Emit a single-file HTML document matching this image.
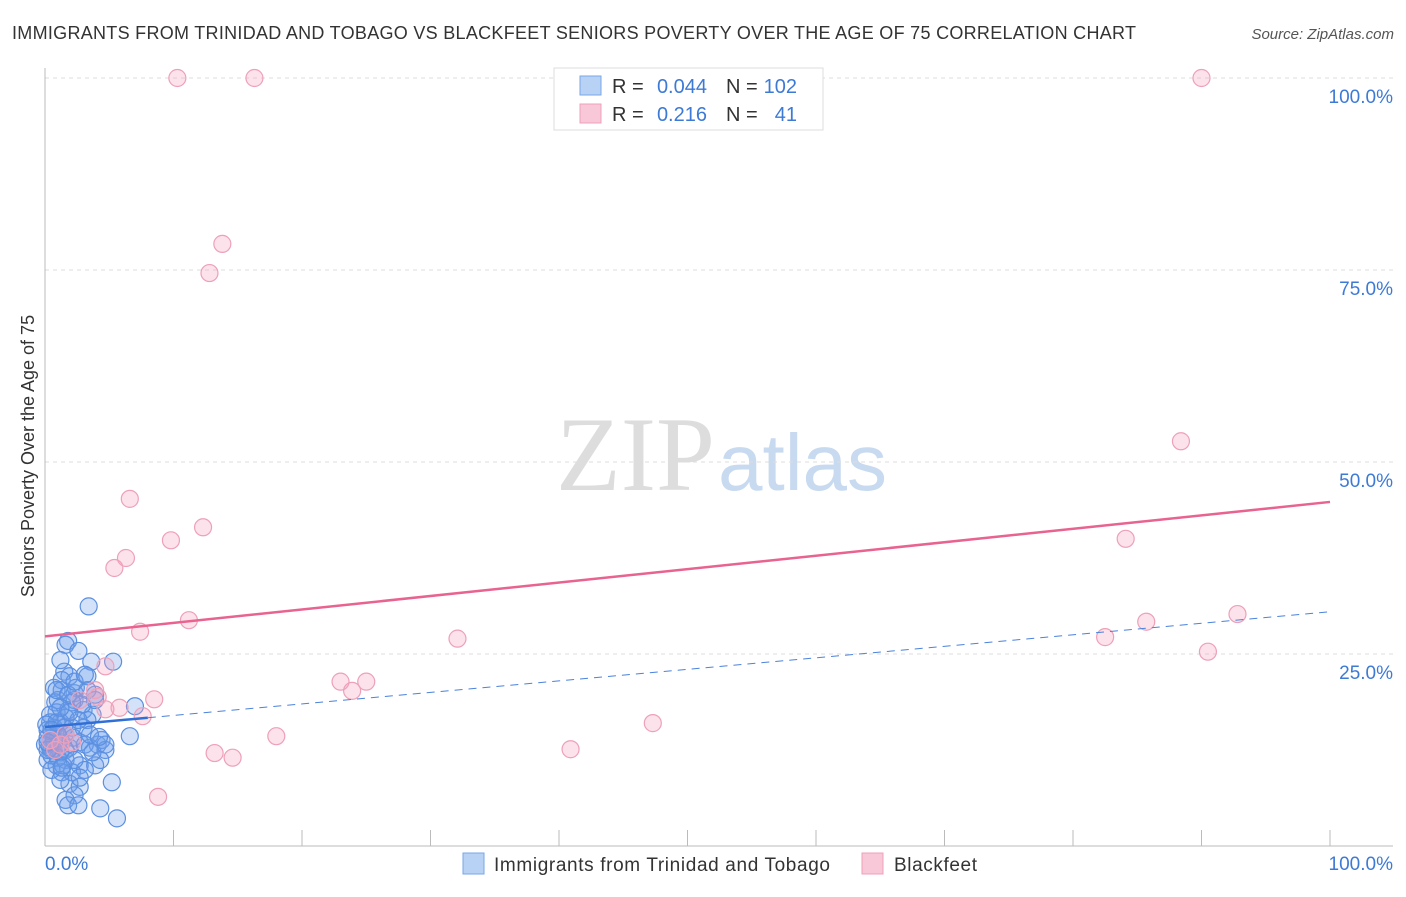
<!DOCTYPE html>
<html><head><meta charset="utf-8"><style>
body{margin:0;background:#fff;font-family:"Liberation Sans",sans-serif;}
svg text{font-family:"Liberation Sans",sans-serif;}
</style></head><body>
<svg id="chart" width="1406" height="892">
<text x="12" y="39" font-size="18" fill="#333" textLength="1124" lengthAdjust="spacing">IMMIGRANTS FROM TRINIDAD AND TOBAGO VS BLACKFEET SENIORS POVERTY OVER THE AGE OF 75 CORRELATION CHART</text>
<text x="1394" y="39" font-size="15" fill="#555" font-style="italic" text-anchor="end">Source: ZipAtlas.com</text>
<text x="715" y="490" font-size="106" fill="#ddd" text-anchor="end" style="font-family:'Liberation Serif',serif">ZIP</text>
<text x="718" y="490" font-size="80" fill="#c8daf0">atlas</text>
<g id="grid"></g>
<g id="marks"></g>
<g id="lines"></g>
<text transform="translate(34,456) rotate(-90)" font-size="18" fill="#333" text-anchor="middle">Seniors Poverty Over the Age of 75</text>
<text x="45" y="870" font-size="19" fill="#3d7ad6">0.0%</text>
<text x="1393" y="870" font-size="19" fill="#3d7ad6" text-anchor="end">100.0%</text>
<g>
<rect x="554" y="68" width="269" height="62" fill="#fff" stroke="#ddd"/>
<rect x="580" y="76" width="21" height="19" fill="#b8d2f5" stroke="#7aa6e6"/>
<rect x="580" y="104" width="21" height="19" fill="#f8c8d8" stroke="#eea0b8"/>
<text x="612" y="93" font-size="20" fill="#333">R =</text>
<text x="707" y="93" font-size="20" fill="#3d7ad6" text-anchor="end">0.044</text>
<text x="726" y="93" font-size="20" fill="#333">N =</text>
<text x="797" y="93" font-size="20" fill="#3d7ad6" text-anchor="end">102</text>
<text x="612" y="121" font-size="20" fill="#333">R =</text>
<text x="707" y="121" font-size="20" fill="#3d7ad6" text-anchor="end">0.216</text>
<text x="726" y="121" font-size="20" fill="#333">N =</text>
<text x="797" y="121" font-size="20" fill="#3d7ad6" text-anchor="end">41</text>
</g>
<g>
<rect x="463" y="853" width="21" height="21" fill="#b8d2f5" stroke="#7aa6e6"/>
<text x="494" y="871" font-size="19" fill="#333" textLength="336" lengthAdjust="spacing">Immigrants from Trinidad and Tobago</text>
<rect x="862" y="853" width="21" height="21" fill="#f8c8d8" stroke="#eea0b8"/>
<text x="894" y="871" font-size="19" fill="#333" textLength="83" lengthAdjust="spacing">Blackfeet</text>
</g>
</svg>
<script>
const yTicks=[25,50,75,100];
const yTickLabels=["25.0%","50.0%","75.0%","100.0%"];
const xTicks=[10,20,30,40,50,60,70,80,90,100];
const blueX=[3.4,1.8,1.6,2.6,3.6,5.3,1.5,1.9,3.3,0.7,1.3,2.3,0.8,2.3,3.9,7.0,0.9,1.8,3.0,3.7,3.3,0.4,1.2,2.1,0.8,0.2,1.3,4.1,6.6,4.4,4.7,0.5,0.2,0.9,1.6,2.7,3.9,1.3,2.1,3.1,5.2,1.9,2.7,2.3,1.6,1.8,2.6,4.3,5.6,0.4,1.0,0.5,1.2,1.9,0,0.2,0.7,1.6,3.0,3.5,2.2,2.7,0.4,1.0,1.3,2.4,2.9,1.6,1.0,1.5,0.9,2.1,3.3,0.5,1.2,4.3,3.9,1.8,2.6,0.1,0.4,0.7,1.6,1.4,1.0,0.2,3.1,1.9,2.3,3.7,4.7,0.9,1.2,1.3,2.7,3.5,0.5,0.2,2.3,3.1,1.2,4.2];
const blueY=[31.2,26.7,26.2,25.4,24.0,24.0,22.7,22.1,22.1,20.6,20.3,19.9,18.7,19.0,19.7,18.2,17.4,17.7,17.7,17.1,16.4,16.1,16.1,15.4,14.5,15.1,13.5,13.2,14.3,13.8,12.5,12.5,11.2,10.5,11.2,10.5,10.5,9.6,9.6,9.9,8.3,8.1,7.7,6.6,6.0,5.3,5.3,4.9,3.6,13.8,13.2,11.8,12.2,12.8,13.2,14.1,15.4,16.7,15.4,12.8,14.1,13.5,17.1,19.0,21.6,20.6,18.4,14.5,11.5,15.4,20.3,18.7,20.3,9.9,8.6,11.2,19.0,19.7,16.4,15.8,12.8,13.8,12.5,10.5,14.5,12.5,13.2,17.4,11.2,12.2,13.2,16.1,18.0,10.2,8.9,14.5,15.1,13.5,21.4,22.3,24.2,14.2];
const pinkX=[10.3,16.3,90.0,13.8,12.8,88.4,6.6,12.3,9.8,6.3,5.4,84.1,11.2,7.4,32.1,85.7,82.5,92.8,90.5,4.7,3.9,4.1,8.5,23.0,25.0,23.9,4.7,5.8,7.6,47.3,18.0,13.2,14.6,40.9,8.8,2.1,1.2,0.8,1.6,0.4,2.7];
const pinkY=[100,100,100,78.4,74.6,52.7,45.2,41.5,39.8,37.5,36.2,40.0,29.4,27.9,27.0,29.2,27.2,30.2,25.3,23.4,20.3,19.4,19.1,21.4,21.4,20.2,17.8,18.0,16.9,16.0,14.3,12.1,11.5,12.6,6.4,13.5,13.2,12.5,14.5,13.8,19.0];
const blueTrend=[15.5,30.5];
const pinkTrend=[27.3,44.8];
const X0=45,X1=1330,Y0=846,Y1=78;
const sx=v=>X0+(X1-X0)*v/100, sy=v=>Y0-(Y0-Y1)*v/100;
const NS="http://www.w3.org/2000/svg";
function mk(tag,attrs,parent){const e=document.createElementNS(NS,tag);for(const k in attrs)e.setAttribute(k,attrs[k]);parent.appendChild(e);return e;}
const grid=document.getElementById('grid'),marks=document.getElementById('marks'),lines=document.getElementById('lines');
yTicks.forEach((t,i)=>{
 const g=mk('line',{x1:X0,x2:1393,y1:sy(t),y2:sy(t),stroke:'#ddd','stroke-dasharray':'4,4'},grid);
 
 
 const l=mk('text',{x:1393,y:sy(t)+25,'font-size':19,fill:'#3d7ad6','text-anchor':'end'},grid);
 l.textContent=yTickLabels[i];
 
 
});
xTicks.forEach(t=>{
 const k=mk('line',{x1:sx(t),x2:sx(t),y1:830,y2:846,stroke:'#bbb'},grid);
 
 
});
const ax=mk('line',{x1:X0,x2:X0,y1:68,y2:846,stroke:'#bbb'},grid);


const bx=mk('line',{x1:X0,x2:1393,y1:846,y2:846,stroke:'#bbb'},grid);


blueX.forEach((x,i)=>{
 const c=mk('circle',{cx:sx(x),cy:sy(blueY[i]),r:8.5,fill:'rgba(110,160,235,0.3)',stroke:'#5b8fe0','stroke-width':1.2},marks);
 
 
});
pinkX.forEach((x,i)=>{
 const c=mk('circle',{cx:sx(x),cy:sy(pinkY[i]),r:8.5,fill:'rgba(245,160,190,0.3)',stroke:'#eea0b8','stroke-width':1.2},marks);
 
 
});
const bt=v=>blueTrend[0]+(blueTrend[1]-blueTrend[0])*v/100;
const l1=mk('line',{x1:sx(0),y1:sy(bt(0)),x2:sx(8),y2:sy(bt(8)),stroke:'#2f6fd6','stroke-width':2.5},lines);


const l2=mk('line',{x1:sx(8),y1:sy(bt(8)),x2:sx(100),y2:sy(bt(100)),stroke:'#4a82dc','stroke-width':1,'stroke-dasharray':'8,6'},lines);


const l3=mk('line',{x1:sx(0),y1:sy(pinkTrend[0]),x2:sx(100),y2:sy(pinkTrend[1]),stroke:'#e8638f','stroke-width':2.5},lines);


</script>
</body></html>
